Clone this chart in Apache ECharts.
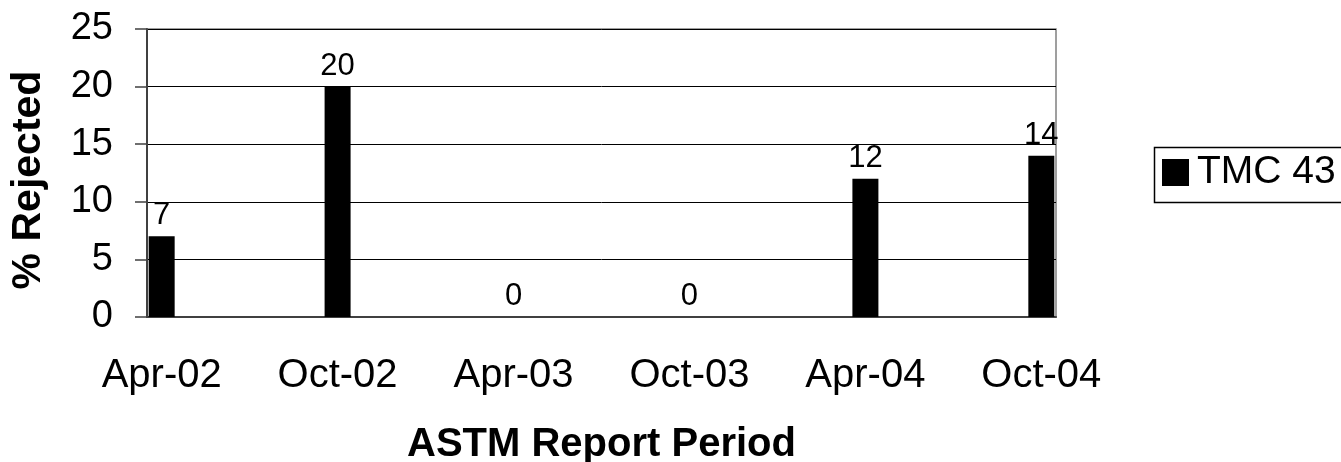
<!DOCTYPE html>
<html>
<head>
<meta charset="utf-8">
<title>% Rejected by ASTM Report Period</title>
<script src="https://cdn.jsdelivr.net/npm/echarts@6/dist/echarts.min.js"></script>
<style>
  html, body { margin: 0; padding: 0; background: #fff; }
  #chart { width: 1341px; height: 462px; }
</style>
</head>
<body>
<div id="chart"></div>
<script>
// report periods and their values
const periods = ["Apr-02", "Oct-02", "Apr-03", "Oct-03", "Apr-04", "Oct-04"];
const rejected = [7, 20, 0, 0, 12, 14];

// monthly date axis (Excel-style), one slot per month
const months = [
  "Apr-02", "May-02", "Jun-02", "Jul-02", "Aug-02", "Sep-02",
  "Oct-02", "Nov-02", "Dec-02", "Jan-03", "Feb-03", "Mar-03",
  "Apr-03", "May-03", "Jun-03", "Jul-03", "Aug-03", "Sep-03",
  "Oct-03", "Nov-03", "Dec-03", "Jan-04", "Feb-04", "Mar-04",
  "Apr-04", "May-04", "Jun-04", "Jul-04", "Aug-04", "Sep-04",
  "Oct-04",
];

const yTicks = { min: 0, max: 25, step: 5 };

const FONT = "'Liberation Sans', Arial, sans-serif";

const seriesData = months.map((m) => {
  const i = periods.indexOf(m);
  return i >= 0 ? rejected[i] : null;
});

const chart = echarts.init(document.getElementById("chart"));

const option = {
  animation: false,
  backgroundColor: "#fff",
  textStyle: { fontFamily: FONT, color: "#000" },
  grid: {
    left: 147,
    right: 285,
    top: 29,
    bottom: 145,
    show: true,
    borderColor: "#808080",
    borderWidth: 1.5,
    outerBoundsMode: "none",
    containLabel: false,
  },
  // legend frame runs off the right edge, like the original
  graphic: [
    {
      type: "rect",
      left: 1152,
      top: 145,
      silent: true,
      shape: { width: 260, height: 55 },
      style: { fill: "none", stroke: "#000", lineWidth: 1.5 },
    },
  ],
  legend: {
    data: ["TMC 43"],
    left: 1152,
    top: 145,
    icon: "rect",
    itemWidth: 27,
    itemHeight: 27,
    padding: [8, 0, 8, 10],
    textStyle: {
      fontFamily: FONT,
      fontSize: 39,
      color: "#000",
      padding: [0, 0, 0, 3],
    },
  },
  xAxis: {
    type: "category",
    data: months,
    boundaryGap: true,
    name: "ASTM Report Period",
    nameLocation: "middle",
    nameGap: 108,
    nameTextStyle: {
      fontFamily: FONT,
      fontSize: 40,
      fontWeight: "bold",
      color: "#000",
    },
    axisLine: { lineStyle: { color: "#404040", width: 2 } },
    axisTick: {
      interval: 5,
      alignWithLabel: false,
      length: 13,
      lineStyle: { color: "#404040", width: 1.5 },
    },
    axisLabel: {
      interval: 5,
      fontFamily: FONT,
      fontSize: 40,
      color: "#000",
      margin: 39,
    },
    splitLine: { show: false },
  },
  yAxis: {
    type: "value",
    min: yTicks.min,
    max: yTicks.max,
    interval: yTicks.step,
    name: "% Rejected",
    nameLocation: "middle",
    nameGap: 98,
    nameTextStyle: {
      fontFamily: FONT,
      fontSize: 41,
      fontWeight: "bold",
      color: "#000",
      padding: [0, 14, 0, 0],
    },
    axisLine: { show: true, lineStyle: { color: "#404040", width: 2 } },
    axisTick: {
      show: true,
      length: 12,
      lineStyle: { color: "#404040", width: 1.5 },
    },
    axisLabel: {
      fontFamily: FONT,
      fontSize: 38,
      color: "#000",
      margin: 34,
    },
    splitLine: { lineStyle: { color: "#000", width: 1 } },
  },
  series: [
    {
      name: "TMC 43",
      type: "bar",
      data: seriesData,
      barWidth: 26,
      itemStyle: { color: "#000" },
      label: {
        show: true,
        position: "top",
        distance: 5,
        fontFamily: FONT,
        fontSize: 31,
        color: "#000",
      },
    },
  ],
};

chart.setOption(option);
</script>
</body>
</html>
